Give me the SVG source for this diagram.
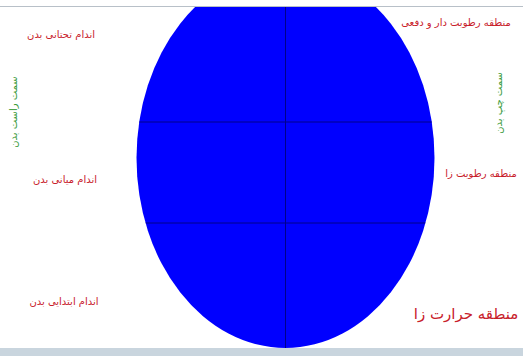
<svg xmlns="http://www.w3.org/2000/svg" width="523" height="356" viewBox="0 0 523 356">
  <style>
    .lbl { font-family: "DejaVu Sans", "Noto Sans", sans-serif; fill: #c8202a; text-anchor: middle; direction: rtl; font-size: 10px; }
    .side { font-family: "DejaVu Sans", "Noto Sans", sans-serif; fill: #3a9a3a; text-anchor: middle; direction: rtl; font-size: 10px; }
    .grid { stroke: #00008a; stroke-width: 1; fill: none; }
  </style>
  <defs>
    <clipPath id="clip">
      <rect x="0" y="7" width="523" height="341"/>
    </clipPath>
    <clipPath id="eclip">
      <ellipse cx="285.5" cy="158" rx="149" ry="190"/>
    </clipPath>
  </defs>
  <rect x="0" y="0" width="523" height="356" fill="#ffffff"/>
  <line x1="0" y1="6.5" x2="523" y2="6.5" stroke="#b8c0c8" stroke-width="1"/>
  <rect x="0" y="348" width="523" height="8" fill="#c9d5de"/>

  <g id="ellipse" clip-path="url(#clip)">
    <ellipse cx="285.5" cy="158" rx="149" ry="190" fill="#0000ff"/>
  </g>
  <g id="connectors" clip-path="url(#eclip)">
    <line class="grid" x1="285.5" y1="7" x2="285.5" y2="350"/>
    <line class="grid" x1="130" y1="122" x2="440" y2="122"/>
    <line class="grid" x1="130" y1="223" x2="440" y2="223"/>
  </g>

  <g id="lower-limbs"><text class="lbl" x="61" y="38">اندام تحتانی بدن</text></g>
  <g id="middle-limbs"><text class="lbl" x="65" y="183">اندام میانی بدن</text></g>
  <g id="primary-limbs"><text class="lbl" x="64" y="305">اندام ابتدایی بدن</text></g>
  <g id="moist-zone"><text class="lbl" x="456" y="26">منطقه رطوبت دار و دفعی</text></g>
  <g id="humid-zone"><text class="lbl" x="481" y="177">منطقه رطوبت زا</text></g>
  <g id="heat-zone"><text class="lbl" x="466" y="319" style="font-size:15px">منطقه حرارت زا</text></g>
  <g id="right-side"><text class="side" transform="translate(17 112) rotate(-90)">سمت راست بدن</text></g>
  <g id="left-side"><text class="side" transform="translate(502 103) rotate(-90)">سمت چپ بدن</text></g>
</svg>
